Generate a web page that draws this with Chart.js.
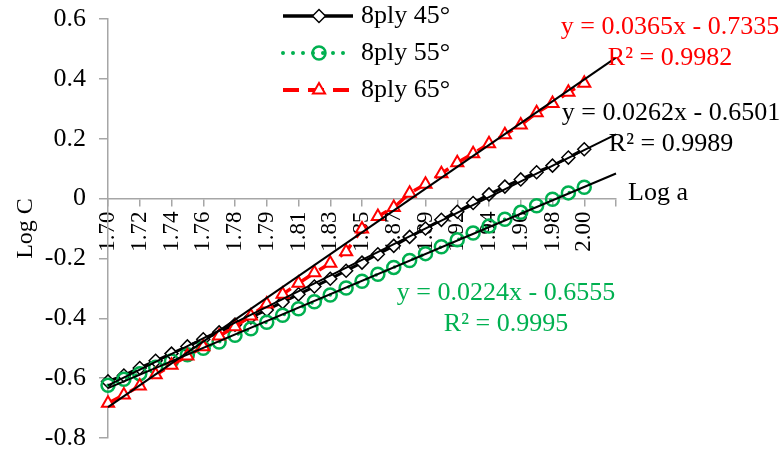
<!DOCTYPE html>
<html>
<head>
<meta charset="utf-8">
<script src="https://cdn.jsdelivr.net/npm/chart.js@4.4.1/dist/chart.umd.min.js"></script>
<style>
  html, body { margin: 0; padding: 0; background: #fff; }
  #wrap { width: 784px; height: 454px; position: relative; }
</style>
</head>
<body>
<div id="wrap"><canvas id="c"></canvas></div>
<script>
// Log a values labelled on every other point (point index 1, 3, 5, ... 31)
const tickLabels = ['1.70', '1.72', '1.74', '1.76', '1.78', '1.79', '1.81', '1.83',
                    '1.85', '1.87', '1.89', '1.92', '1.94', '1.96', '1.98', '2.00'];

// Log C per point, 31 points per specimen
const logC45 = [-0.611, -0.591, -0.566, -0.542, -0.518, -0.494, -0.470, -0.447, -0.421, -0.397,
                -0.372, -0.346, -0.320, -0.294, -0.268, -0.241, -0.214, -0.186, -0.158, -0.128,
                -0.100, -0.071, -0.044, -0.015, 0.014, 0.040, 0.064, 0.088, 0.110, 0.137, 0.165];
const logC55 = [-0.624, -0.604, -0.585, -0.564, -0.543, -0.522, -0.500, -0.479, -0.457, -0.435,
                -0.413, -0.390, -0.368, -0.345, -0.322, -0.299, -0.276, -0.253, -0.230, -0.207,
                -0.184, -0.161, -0.138, -0.115, -0.092, -0.069, -0.046, -0.024, -0.002, 0.019, 0.038];
const logC65 = [-0.684, -0.656, -0.626, -0.589, -0.557, -0.526, -0.495, -0.459, -0.428, -0.392,
                -0.352, -0.320, -0.283, -0.248, -0.216, -0.178, -0.102, -0.060, -0.030, 0.018,
                0.048, 0.083, 0.120, 0.150, 0.183, 0.213, 0.246, 0.287, 0.318, 0.355, 0.385];

const seriesNames = ['8ply 45°', '8ply 55°', '8ply 65°'];

// Linear trendlines (x = point index), forecast 2 points forward
const trendSlopes = [0.0262, 0.0224, 0.0365];
const trendIntercepts = [-0.6501, -0.6555, -0.7335];
const trendR2 = ['0.9989', '0.9995', '0.9982'];
const lastIndex = 33;

const serif = '"Liberation Serif", "Times New Roman", serif';
const axisGrey = '#a6a6a6';

const toPoints = arr => arr.map((v, i) => ({ x: i + 1, y: v }));
const trendPoints = k => [1, lastIndex].map(x => ({ x, y: trendSlopes[k] * x + trendIntercepts[k] }));

const seriesStyles = [
  { borderColor: '#000000', borderWidth: 3, borderDash: [], borderCapStyle: 'butt',
    pointStyle: 'rectRot', pointRadius: 6.5, pointBorderWidth: 1.5,
    pointBorderColor: '#000000', pointBackgroundColor: '#ffffff' },
  { borderColor: '#00b050', borderWidth: 3.5, borderDash: [0, 10], borderCapStyle: 'round',
    pointStyle: 'circle', pointRadius: 6.5, pointBorderWidth: 2.5,
    pointBorderColor: '#00b050', pointBackgroundColor: 'rgba(0,0,0,0)' },
  { borderColor: '#ff0000', borderWidth: 3.5, borderDash: [16, 9], borderCapStyle: 'butt',
    pointStyle: 'triangle', pointRadius: 7, pointBorderWidth: 2,
    pointBorderColor: '#ff0000', pointBackgroundColor: '#ffffff' }
];
const seriesData = [logC45, logC55, logC65];
const seriesOrder = [3, 2, 1];

const datasets = seriesData.map((arr, k) => Object.assign({
  label: seriesNames[k],
  data: toPoints(arr),
  order: seriesOrder[k],
  tension: 0,
  clip: false
}, seriesStyles[k]));

trendSlopes.forEach((s, k) => {
  datasets.push({
    label: 'trend ' + seriesNames[k],
    data: trendPoints(k),
    borderColor: '#000000',
    borderWidth: 2,
    pointRadius: 0,
    order: 0,
    clip: false
  });
});

// Key: line sample, marker and name for each specimen
const keyRowY = [16, 53, 90];
const keyLine = [283, 353];
const keyMarkX = 319;
const keyTextX = 361;

const seriesKey = {
  id: 'seriesKey',
  afterDraw(chart) {
    const ctx = chart.ctx;
    seriesNames.forEach((name, k) => {
      const st = seriesStyles[k];
      const y = keyRowY[k];
      ctx.save();
      ctx.strokeStyle = st.borderColor;
      ctx.lineWidth = st.borderWidth + 0.5;
      ctx.lineCap = st.borderCapStyle;
      ctx.setLineDash(st.borderDash);
      ctx.beginPath();
      ctx.moveTo(keyLine[0], y);
      ctx.lineTo(keyLine[1], y);
      ctx.stroke();
      ctx.setLineDash([]);
      ctx.lineCap = 'butt';
      ctx.fillStyle = st.pointBackgroundColor;
      ctx.strokeStyle = st.pointBorderColor;
      ctx.lineWidth = st.pointBorderWidth;
      Chart.helpers.drawPoint(ctx, {
        pointStyle: st.pointStyle, radius: st.pointRadius, rotation: 0, borderWidth: st.pointBorderWidth
      }, keyMarkX, y);
      ctx.fillStyle = '#000';
      ctx.font = '26px ' + serif;
      ctx.textAlign = 'left';
      ctx.textBaseline = 'middle';
      ctx.fillText(name, keyTextX, y);
      ctx.restore();
    });
  }
};

// Trendline equations and the x axis name
const eqCenterX = [671, 506, 670];
const eqBaseY = [120, 300, 34];
const eqColors = ['#000000', '#00b050', '#ff0000'];

const fmtEq = k => 'y = ' + trendSlopes[k].toFixed(4) + 'x ' +
  (trendIntercepts[k] < 0 ? '- ' : '+ ') + Math.abs(trendIntercepts[k]).toFixed(4);

const annotations = {
  id: 'annotations',
  afterDraw(chart) {
    const ctx = chart.ctx;
    ctx.save();
    ctx.font = '26px ' + serif;
    ctx.textBaseline = 'alphabetic';
    ctx.textAlign = 'center';
    trendSlopes.forEach((s, k) => {
      ctx.fillStyle = eqColors[k];
      ctx.fillText(fmtEq(k), eqCenterX[k], eqBaseY[k]);
      ctx.fillText('R² = ' + trendR2[k], eqCenterX[k], eqBaseY[k] + 31);
    });
    ctx.fillStyle = '#000';
    ctx.textAlign = 'left';
    ctx.fillText('Log a', 628, 200);
    ctx.restore();
  }
};

new Chart(document.getElementById('c'), {
  type: 'line',
  data: { datasets },
  options: {
    responsive: true,
    maintainAspectRatio: false,
    animation: false,
    devicePixelRatio: 1,
    layout: { padding: { left: 0, right: 168, top: 19, bottom: 16 } },
    plugins: { legend: { display: false }, tooltip: { enabled: false } },
    scales: {
      x: {
        type: 'linear',
        position: { y: 0 },
        min: 1,
        max: lastIndex,
        afterBuildTicks: scale => {
          const t = [];
          for (let v = 1; v <= lastIndex; v += 2) t.push({ value: v });
          scale.ticks = t;
        },
        ticks: {
          autoSkip: false,
          maxRotation: 90,
          minRotation: 90,
          padding: 6,
          color: '#000',
          font: { family: serif, size: 23 },
          callback: v => tickLabels[(v - 1) / 2] || ''
        },
        grid: { drawOnChartArea: false, drawTicks: true, tickLength: 7, color: axisGrey, lineWidth: 1.5 },
        border: { display: true, color: axisGrey, width: 1.5 }
      },
      y: {
        min: -0.8,
        max: 0.6,
        afterFit: scale => {
          scale.width = 108;
          scale.paddingTop = 0;
          scale.paddingBottom = 0;
        },
        ticks: {
          stepSize: 0.2,
          padding: 13,
          color: '#000',
          font: { family: serif, size: 26 },
          callback: v => (Math.abs(v) < 1e-9 ? '0' : v.toFixed(1))
        },
        grid: { drawOnChartArea: false, drawTicks: true, tickLength: 9, color: axisGrey, lineWidth: 1.5 },
        border: { display: true, color: axisGrey, width: 1.5 },
        title: {
          display: true,
          text: 'Log C',
          color: '#000',
          font: { family: serif, size: 24 },
          padding: { top: 11, bottom: 0 }
        }
      }
    }
  },
  plugins: [seriesKey, annotations]
});
</script>
</body>
</html>
